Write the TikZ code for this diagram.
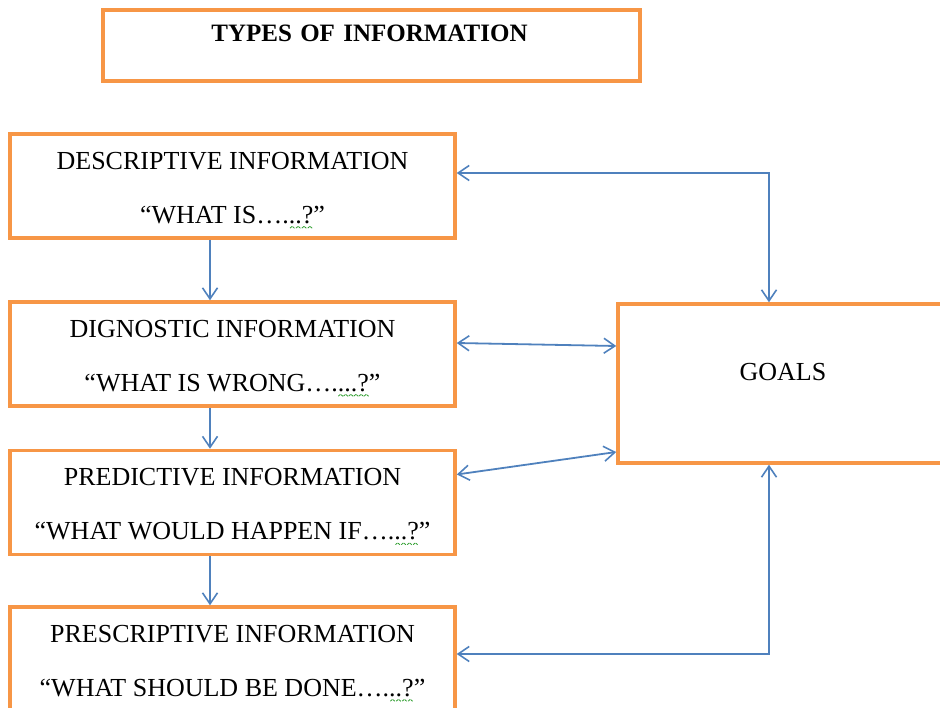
\documentclass[tikz,border=0pt]{standalone}
\usepackage{fontspec}
\usepackage{graphicx}
\setmainfont{Liberation Serif}
\usetikzlibrary{arrows.meta}
\definecolor{boxorange}{HTML}{F79646}
\definecolor{linkblue}{HTML}{4F81BD}
\definecolor{spellgreen}{HTML}{2E9E2E}
\newsavebox\sqgbox
\newcommand\zigunit{\rotatebox{40}{\rule{2.6pt}{0.8pt}}\raisebox{1.6pt}{\rotatebox{-40}{\rule{2.6pt}{0.8pt}}}}
\newcommand\sqg[1]{\sbox\sqgbox{#1}\rlap{\raisebox{-5pt}{\color{spellgreen}\hbox to \wd\sqgbox{\xleaders\hbox{\zigunit}\hfil}}}#1}
\newcommand\topstrut{\rule{0pt}{26pt}}
\begin{document}
\begin{tikzpicture}[x=1pt,y=-1pt,
  infobox/.style={draw=boxorange,line width=3.5pt,fill=white,inner sep=0pt,
    align=center,font=\fontsize{26}{54}\selectfont},
  link/.style={draw=linkblue,line width=1.8pt,
    arrows={Straight Barb[length=11pt,width=15pt,line width=1.6pt]-Straight Barb[length=11pt,width=15pt,line width=1.6pt]}},
  onelink/.style={draw=linkblue,line width=1.8pt,
    arrows={-Straight Barb[length=11pt,width=15pt,line width=1.6pt]}}]
\useasboundingbox (0,0) rectangle (940,708);
% title
\node[draw=boxorange,line width=3.5pt,inner sep=0pt,minimum width=537pt,
  text width=537pt,align=center,text height=32pt,text depth=39pt,
  font=\fontsize{25}{30}\selectfont\bfseries] (title) at (371.5,45.5)
  {\hspace*{-4pt}TYPES OF INFORMATION};
% info boxes
\node[infobox,minimum width=445pt,minimum height=104pt] (b1) at (232.5,186)
  {\topstrut DESCRIPTIVE INFORMATION\\“WHAT IS….\sqg{..?}”};
\node[infobox,minimum width=445pt,minimum height=104pt] (b2) at (232.5,354)
  {\topstrut DIGNOSTIC INFORMATION\\“WHAT IS WRONG….\sqg{...?}”};
\node[infobox,minimum width=445pt,minimum height=104pt] (b3) at (232.5,502.5)
  {\topstrut PREDICTIVE INFORMATION\\“WHAT WOULD HAPPEN IF….\sqg{..?}”};
\node[infobox,minimum width=445pt,minimum height=104pt] (b4) at (232.5,659)
  {\topstrut PRESCRIPTIVE INFORMATION\\“WHAT SHOULD BE DONE….\sqg{..?}”};
% goals
\node[infobox,minimum width=330pt,minimum height=159pt] (g) at (783,383.5)
  {GOALS\rule[-23pt]{0pt}{23pt}};
% vertical flow arrows
\draw[onelink] ([xshift=-22.5pt]b1.south) -- ([xshift=-22.5pt]b2.north);
\draw[onelink] ([xshift=-22.5pt]b2.south) -- ([xshift=-22.5pt]b3.north);
\draw[onelink] ([xshift=-22.5pt]b3.south) -- ([xshift=-22.5pt]b4.north);
% links to goals
\draw[link] ([yshift=13pt]b1.east) -| ([xshift=-14pt]g.north);
\draw[link] ([yshift=11pt]b2.east) -- ([yshift=37.5pt]g.west);
\draw[link] ([yshift=28pt]b3.east) -- ([yshift=-68.5pt]g.west);
\draw[link] ([yshift=5pt]b4.east) -| ([xshift=-14pt]g.south);
\end{tikzpicture}
\end{document}
